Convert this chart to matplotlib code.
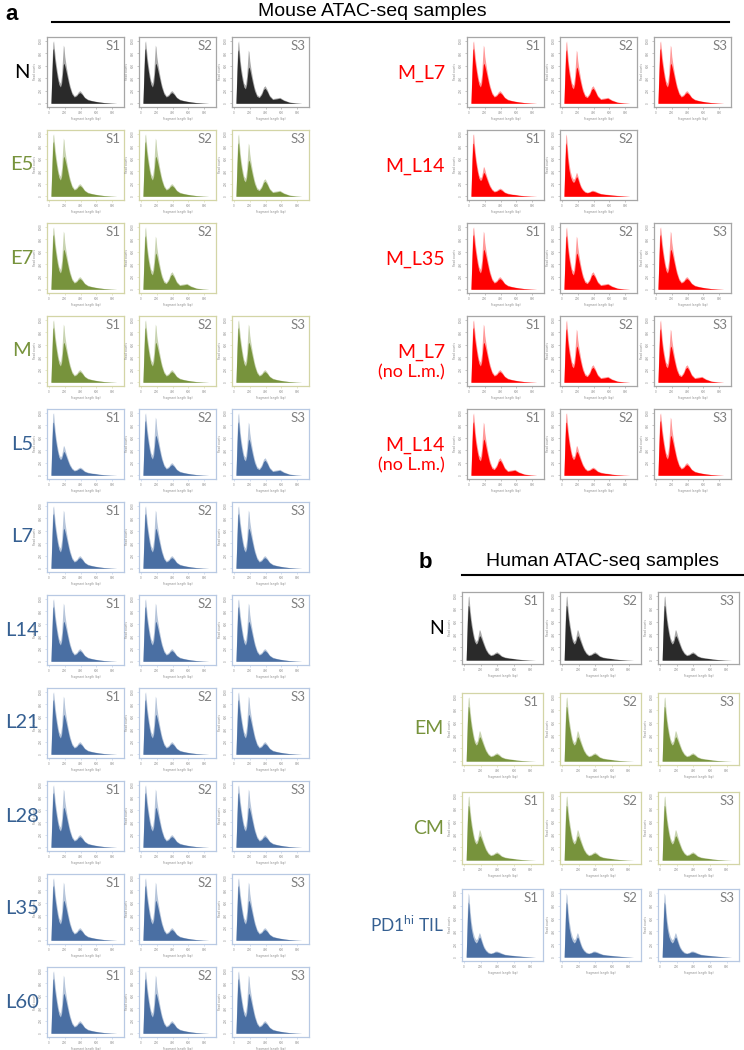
import matplotlib
matplotlib.use("Agg")
import matplotlib.pyplot as plt
from matplotlib.lines import Line2D

# ---------------- data ----------------
fragment_bp = [25, 40, 50, 58, 70, 85, 105, 125, 145, 160, 172, 182, 190, 200, 215,
               235, 260, 290, 320, 350, 375, 395, 420, 450, 490, 540, 580, 630, 700, 780, 860]

# two equal nucleosome peaks
profile_a_peak = [0.00, 0.70, 0.97, 1.00, 0.85, 0.68, 0.50, 0.36, 0.32, 0.45, 0.72, 0.93, 0.90, 0.75, 0.62,
                  0.47, 0.31, 0.18, 0.12, 0.14, 0.19, 0.20, 0.16, 0.10, 0.065, 0.045, 0.035, 0.022, 0.012, 0.005, 0.0]
profile_a_body = [0.00, 0.55, 0.85, 0.88, 0.72, 0.58, 0.42, 0.30, 0.26, 0.32, 0.48, 0.62, 0.64, 0.60, 0.52,
                  0.40, 0.26, 0.15, 0.10, 0.12, 0.16, 0.17, 0.14, 0.09, 0.055, 0.04, 0.03, 0.02, 0.01, 0.004, 0.0]
# strong periodicity (3rd / 4th peaks visible)
profile_b_peak = [0.00, 0.70, 0.96, 1.00, 0.82, 0.62, 0.45, 0.32, 0.29, 0.42, 0.66, 0.85, 0.82, 0.68, 0.55,
                  0.40, 0.25, 0.14, 0.11, 0.17, 0.26, 0.28, 0.22, 0.13, 0.075, 0.085, 0.095, 0.055, 0.02, 0.007, 0.0]
profile_b_body = [0.00, 0.55, 0.83, 0.86, 0.68, 0.52, 0.37, 0.26, 0.23, 0.30, 0.45, 0.56, 0.58, 0.54, 0.45,
                  0.33, 0.20, 0.11, 0.09, 0.14, 0.22, 0.24, 0.19, 0.11, 0.06, 0.07, 0.08, 0.045, 0.015, 0.005, 0.0]
# dominant sub-nucleosomal peak
profile_c_peak = [0.00, 0.75, 0.98, 1.00, 0.82, 0.64, 0.47, 0.34, 0.29, 0.32, 0.40, 0.47, 0.47, 0.43, 0.36,
                  0.28, 0.19, 0.12, 0.085, 0.095, 0.12, 0.13, 0.11, 0.07, 0.05, 0.035, 0.03, 0.018, 0.01, 0.004, 0.0]
profile_c_body = [0.00, 0.60, 0.85, 0.84, 0.70, 0.55, 0.40, 0.29, 0.25, 0.27, 0.32, 0.37, 0.38, 0.36, 0.31,
                  0.24, 0.16, 0.10, 0.07, 0.08, 0.10, 0.11, 0.09, 0.06, 0.04, 0.03, 0.025, 0.015, 0.008, 0.003, 0.0]
# PD1hi TIL-like
profile_d_peak = [0.00, 0.75, 1.00, 0.96, 0.76, 0.56, 0.40, 0.31, 0.27, 0.29, 0.34, 0.38, 0.37, 0.33, 0.26,
                  0.18, 0.12, 0.08, 0.065, 0.075, 0.095, 0.095, 0.085, 0.065, 0.045, 0.035, 0.03, 0.022, 0.014, 0.007, 0.0]
profile_d_body = [0.00, 0.60, 0.86, 0.82, 0.62, 0.45, 0.32, 0.25, 0.22, 0.24, 0.28, 0.31, 0.31, 0.28, 0.22,
                  0.15, 0.10, 0.065, 0.055, 0.065, 0.08, 0.08, 0.07, 0.055, 0.038, 0.03, 0.025, 0.018, 0.011, 0.005, 0.0]

profiles = {"A": (profile_a_peak, profile_a_body), "B": (profile_b_peak, profile_b_body),
            "C": (profile_c_peak, profile_c_body), "D": (profile_d_peak, profile_d_body)}

mouse_left_groups = ["N", "E5", "E7", "M", "L5", "L7", "L14", "L21", "L28", "L35", "L60"]
mouse_left_types = ["naive", "eff", "eff", "eff", "lcmv", "lcmv", "lcmv", "lcmv", "lcmv", "lcmv", "lcmv"]
mouse_left_profiles = [["A", "A", "B"], ["A", "A", "B"], ["A", "B"], ["A", "A", "A"], ["C", "A", "B"],
                       ["A", "A", "A"], ["A", "A", "A"], ["A", "A", "A"], ["A", "A", "A"],
                       ["A", "A", "A"], ["A", "A", "A"]]

mouse_right_groups = ["M_L7", "M_L14", "M_L35", "M_L7", "M_L14"]
mouse_right_sub = ["", "", "", "(no L.m.)", "(no L.m.)"]
mouse_right_profiles = [["A", "B", "A"], ["C", "D"], ["A", "B", "A"], ["A", "B", "B"], ["B", "C", "A"]]

human_groups = ["N", "EM", "CM", r"PD1$^{\mathregular{hi}}$ TIL"]
human_types = ["naive", "eff", "eff", "lcmv"]
human_profiles = [["C", "C", "C"], ["C", "C", "C"], ["C", "C", "C"], ["D", "D", "D"]]

sample_names = ["S1", "S2", "S3"]
x_ticks = [0, 200, 400, 600, 800]
y_ticks = [0, 0.2, 0.4, 0.6, 0.8, 1.0]

# ---------------- style ----------------
W, H = 744, 1050
fill_colors = {"naive": "#2a2a2a", "eff": "#77933c", "lcmv": "#4a6fa3", "mut": "#ff0000"}
label_colors = {"naive": "#000000", "eff": "#77933c", "lcmv": "#366092", "mut": "#ff0000"}
frame_colors = {"naive": "#a6a6a6", "eff": "#d3d5a6", "lcmv": "#b8c9e3", "mut": "#a6a6a6"}
LABEL_FONT = ["Lato", "DejaVu Sans"]

fig = plt.figure(figsize=(W / 100, H / 100), dpi=100)


def px_axes(left, top, width, height):
    return fig.add_axes([left / W, 1 - (top + height) / H, width / W, height / H])


def draw_panel(left, top, width, height, prof, kind, sname):
    ax = px_axes(left, top, width, height)
    peak, body = profiles[prof]
    col = fill_colors[kind]
    ax.fill_between(fragment_bp, 0, peak, color=col, alpha=0.4, lw=0)
    ax.fill_between(fragment_bp, 0, body, color=col, lw=0)
    ax.set_xlim(-25, 950)
    ax.set_ylim(-0.06, 1.06)
    for s in ax.spines.values():
        s.set_color(frame_colors[kind])
        s.set_linewidth(0.9)
    tick_col = "#9a9a9a" if kind in ("naive", "mut") else frame_colors[kind]
    ax.set_xticks(x_ticks)
    ax.set_xticklabels([str(v) for v in x_ticks], fontsize=2, color="#8a8a8a")
    ax.set_yticks(y_ticks)
    ax.set_yticklabels([str(int(v * 1000)) for v in y_ticks], fontsize=2, rotation=90,
                       color="#8a8a8a", va="center")
    ax.tick_params(length=1.5, width=0.4, pad=1.5, colors=tick_col, labelcolor="#8a8a8a")
    ax.set_xlabel("Fragment length (bp)", fontsize=2, labelpad=1.5, color="#8a8a8a")
    ax.set_ylabel("Read counts", fontsize=2, labelpad=1.5, color="#8a8a8a")
    ax.text(0.95, 0.96, sname, transform=ax.transAxes, ha="right", va="top",
            fontsize=9.5, color="#808080", family=LABEL_FONT)
    return ax


# ---------------- mouse left column ----------------
left_x = [47, 139, 232]
right_x = [467, 560, 654]
row_top0, row_pitch, pw, ph = 37, 93, 77, 70

for i, (grp, kind, profs) in enumerate(zip(mouse_left_groups, mouse_left_types, mouse_left_profiles)):
    top = row_top0 + i * row_pitch
    for j, pr in enumerate(profs):
        draw_panel(left_x[j], top, pw, ph, pr, kind, sample_names[j])
    fig.text(22 / W, 1 - (top + ph / 2) / H, grp, ha="center", va="center",
             fontsize=14.5, color=label_colors[kind], family=LABEL_FONT)

# ---------------- mouse right column ----------------
for i, (grp, sub, profs) in enumerate(zip(mouse_right_groups, mouse_right_sub, mouse_right_profiles)):
    top = row_top0 + i * row_pitch
    for j, pr in enumerate(profs):
        draw_panel(right_x[j], top, pw, ph, pr, "mut", sample_names[j])
    cy = top + ph / 2
    fig.text(445 / W, 1 - (cy + 1) / H, grp, ha="right", va="center",
             fontsize=14, color=label_colors["mut"], family=LABEL_FONT)
    if sub:
        fig.text(445 / W, 1 - (cy + 21) / H, sub, ha="right", va="center",
                 fontsize=13, color=label_colors["mut"], family=LABEL_FONT)

# ---------------- human ----------------
human_x = [462, 560, 658]
human_tops = [592, 693, 792, 889]
human_label_size = [14, 14, 14, 12.5]
for i, (grp, kind, profs) in enumerate(zip(human_groups, human_types, human_profiles)):
    top = human_tops[i]
    for j, pr in enumerate(profs):
        draw_panel(human_x[j], top, 81, 72, pr, kind, sample_names[j])
    fig.text(444 / W, 1 - (top + 36) / H, grp, ha="right", va="center",
             fontsize=human_label_size[i], color=label_colors[kind], family=LABEL_FONT)

# ---------------- headers ----------------
fig.text(12 / W, 1 - 15 / H, "a", ha="center", va="center", fontsize=16, fontweight="bold",
         family=["Liberation Sans", "DejaVu Sans"])
fig.text(372 / W, 1 - 11 / H, "Mouse ATAC-seq samples", ha="center", va="center", fontsize=14,
         family=["Liberation Sans", "DejaVu Sans"])
fig.add_artist(Line2D([52 / W, 729 / W], [1 - 22 / H, 1 - 22 / H], color="black", lw=1.5))

fig.text(425 / W, 1 - 563 / H, "b", ha="center", va="center", fontsize=16, fontweight="bold",
         family=["Liberation Sans", "DejaVu Sans"])
fig.text(602 / W, 1 - 562 / H, "Human ATAC-seq samples", ha="center", va="center", fontsize=14,
         family=["Liberation Sans", "DejaVu Sans"])
fig.add_artist(Line2D([462 / W, 744 / W], [1 - 575 / H, 1 - 575 / H], color="black", lw=1.5))

fig.savefig("out.png", dpi=100)
